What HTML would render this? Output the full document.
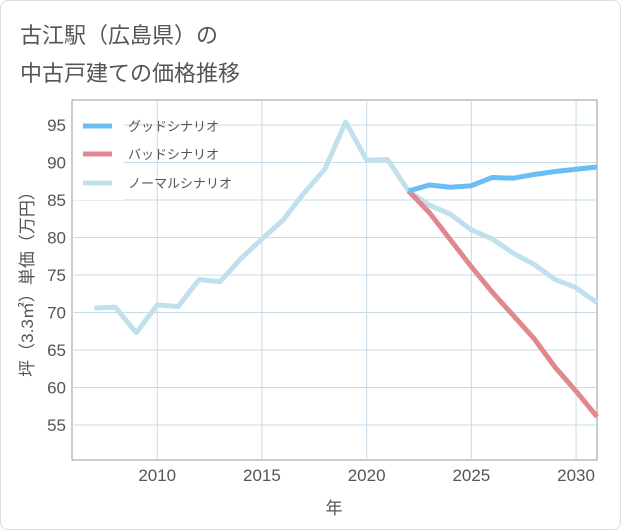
<!DOCTYPE html>
<html><head><meta charset="utf-8"><style>
body{margin:0;background:#fff;}
.card{position:absolute;left:0;top:0;width:619px;height:528px;border:1px solid #ddd;border-radius:8px;background:#fff;}
.t{position:absolute;left:20px;font:22px "Liberation Sans","Noto Sans CJK JP",sans-serif;color:#555;}
svg text{font-family:"Liberation Sans","Noto Sans CJK JP",sans-serif;}
</style></head><body>
<div class="card"></div>
<div class="t" style="top:18px">古江駅（広島県）の</div>
<div class="t" style="top:56px">中古戸建ての価格推移</div>
<svg id="c" width="621" height="530" style="position:absolute;left:0;top:0"></svg>
<script>
const years=[2007,2008,2009,2010,2011,2012,2013,2014,2015,2016,2017,2018,2019,2020,2021,2022,2023,2024,2025,2026,2027,2028,2029,2030,2031];
const normal=[70.6,70.7,67.3,71.0,70.8,74.4,74.1,77.2,79.8,82.3,85.9,89.1,95.4,90.3,90.4,86.2,84.3,83.1,81.0,79.8,77.9,76.4,74.4,73.3,71.3];
const fYears=[2022,2023,2024,2025,2026,2027,2028,2029,2030,2031];
const good=[86.2,87.0,86.7,86.9,88.0,87.9,88.4,88.8,89.1,89.4];
const bad=[86.2,83.3,79.7,76.1,72.7,69.6,66.5,62.7,59.5,56.1];
const xTicks=[2010,2015,2020,2025,2030];
const yTicks=[55,60,65,70,75,80,85,90,95];
const L=72,R=597,T=100,B=460;
const x=v=>L+(v-2005.93)*(R-L)/(2031-2005.93);
const y=v=>B-(v-50.33)*(B-T)/(98.33-50.33);
const svg=document.getElementById('c');
const NS='http://www.w3.org/2000/svg';
function mk(t,a,p){const e=document.createElementNS(NS,t);for(const k in a)e.setAttribute(k,a[k]);(p||svg).appendChild(e);return e;}
let e=mk('rect',{x:L,y:T,width:R-L,height:B-T,fill:'none',stroke:'#999'});


yTicks.forEach(v=>{
 let g=mk('line',{x1:L,x2:R,y1:y(v),y2:y(v),stroke:'#c9dbe6'});
 
 
 let t=mk('text',{x:L-6,y:y(v)+6,'text-anchor':'end','font-size':17,fill:'#555'});t.textContent=v;
 
 
});
xTicks.forEach(v=>{
 let g=mk('line',{x1:x(v),x2:x(v),y1:T,y2:B,stroke:'#c9dbe6'});
 
 
 let t=mk('text',{x:x(v),y:B+21,'text-anchor':'middle','font-size':17,fill:'#555'});t.textContent=v;
 
 
});
function line(xs,vs,c,name){
 let p=mk('polyline',{points:xs.map((v,i)=>x(v)+','+y(vs[i])).join(' '),fill:'none',stroke:c,'stroke-width':5,'stroke-linejoin':'round'});
 
 
}
line(years,normal,'#c0e0ec','normal-scenario-line');
line(fYears,bad,'#e0888f','bad-scenario-line');
line(fYears,good,'#6bbdf5','good-scenario-line');
mk('rect',{x:74,y:108,width:50,height:92,fill:'#fff'});
[['グッドシナリオ','#6bbdf5',126],['バッドシナリオ','#e0888f',154],['ノーマルシナリオ','#c0e0ec',183]].forEach(([n,c,yy],i)=>{
 let s=mk('line',{x1:83,x2:112,y1:yy,y2:yy,stroke:c,'stroke-width':5});
 
 
 let t=mk('text',{x:128,y:yy+5,'font-size':13,fill:'#555'});t.textContent=n;
 
 
});
let xt=mk('text',{x:334,y:514,'text-anchor':'middle','font-size':17,fill:'#555'});xt.textContent='年';


let yt=mk('text',{x:0,y:0,'text-anchor':'middle','font-size':17,fill:'#555',transform:'translate(33,280) rotate(-90)'});yt.textContent='坪（3.3㎡）単価（万円）';


</script>
</body></html>
